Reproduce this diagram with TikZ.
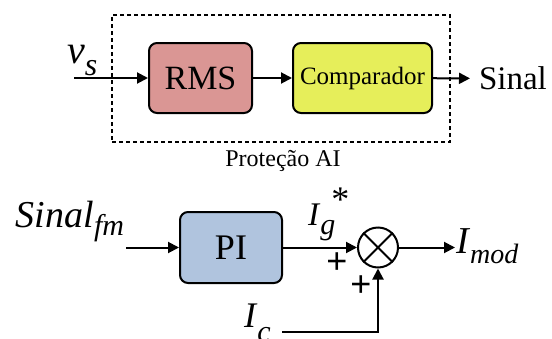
\documentclass[tikz,border=0pt]{standalone}
\usepackage{fontspec}
\setmainfont{Liberation Serif}
\newfontfamily\plusfont{Liberation Sans}
\usetikzlibrary{arrows.meta,positioning}
\definecolor{rmsred}{RGB}{218,150,148}
\definecolor{compyellow}{RGB}{230,238,90}
\definecolor{piblue}{RGB}{176,196,222}
\newcommand{\sz}[1]{\fontsize{#1}{#1}\selectfont}

\begin{document}
\begin{tikzpicture}[x=1pt, y=-1pt, line width=2pt, >={Triangle[length=11pt,width=11pt]}, every node/.style={inner sep=0pt}]
        \useasboundingbox (0,0) rectangle (552,338);
        % protecao AI
        \node[draw, rounded corners=8pt, fill=rmsred, minimum width=103pt, minimum height=70pt, font=\sz{34}] (rms) at (200.5,78) {RMS};
        \node[draw, rounded corners=8pt, fill=compyellow, minimum width=139pt, minimum height=70pt, right=39pt of rms, font=\sz{25}] (comp) {Comparador};
        \node[draw, line width=2.3pt, dash pattern=on 4pt off 3pt, minimum width=338pt, minimum height=127pt] (prot) at (281,78.5) {};
        \node[anchor=base, font=\sz{24}] (protlbl) at (283,166) {Proteção AI};
        \coordinate (vin) at (74,78);
        \node[anchor=base west, font=\sz{40}] (vs) at (66,63) {\textit{v}\raisebox{-12pt}{\sz{32}\textit{s}}};
        \node[anchor=west, inner xsep=8pt, font=\sz{33}] (sinal) at (470,78.5) {Sinal};
        \draw[->] (vin) -- (rms);
        \draw[->] (rms) -- (comp);
        \draw[->] (comp) -- (sinal);
        % controle
        \node[draw, rounded corners=8pt, fill=piblue, minimum width=102pt, minimum height=71pt, font=\sz{36}] (pi) at (231,247.5) {PI};
        \node[draw, circle, minimum size=40pt] (sum) at (378,247.5) {};
        \draw (sum.north west) -- (sum.south east) (sum.north east) -- (sum.south west);
        \coordinate (fmin) at (126,247.5);
        \node[anchor=base west, font=\sz{38}] (fm) at (15,227) {\textit{Sinal}\raisebox{-8pt}{\sz{30}\textit{fm}}};
        \node[anchor=base west, font=\sz{33}] (ig) at (307,225) {\textit{I}\rlap{\raisebox{-9pt}{\sz{30}\textit{g}}}\hspace{11pt}\raisebox{14pt}{\sz{36}*}};
        \node[anchor=base west, font=\sz{38}] (imod) at (455,253) {\textit{I}\raisebox{-10pt}{\sz{28}\textit{mod}}};
        \coordinate (icin) at (282,332);
        \node[anchor=base west, font=\sz{36}] (ic) at (243,327) {\textit{I}\raisebox{-14pt}{\sz{30}\textit{c}}};
        \node[font=\plusfont\sz{36}] (plusa) at (337,263) {+};
        \node[font=\plusfont\sz{36}] (plusb) at (361,286) {+};
        \draw[->] (fmin) -- (pi);
        \draw[->] (pi) -- (sum);
        \draw[->] (sum) -- (sum -| imod.west);
        \draw[->] (icin) -| (sum.south);
      \end{tikzpicture}
\end{document}
